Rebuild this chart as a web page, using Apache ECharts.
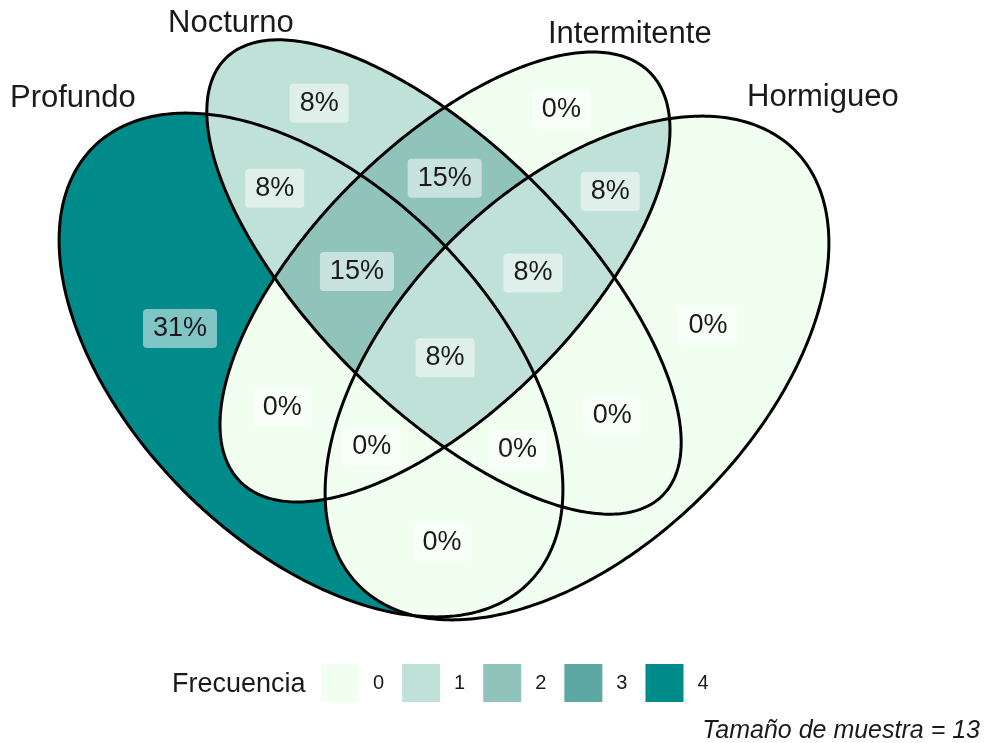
<!DOCTYPE html>
<html>
<head>
<meta charset="utf-8">
<script src="https://cdn.jsdelivr.net/npm/echarts@6/dist/echarts.min.js"></script>
<style>
  html, body { margin: 0; padding: 0; background: #fff; }
  #chart { width: 989px; height: 743px; }
</style>
</head>
<body>
<div id="chart"></div>
<script>
// conjuntos y regiones (A = Profundo, B = Nocturno, C = Intermitente, D = Hormigueo)
var setNames = ['Profundo', 'Nocturno', 'Intermitente', 'Hormigueo'];
var regionKeys = ['A', 'B', 'C', 'D', 'AB', 'AC', 'AD', 'BC', 'BD', 'CD', 'ABC', 'ABD', 'ACD', 'BCD', 'ABCD'];
var regionCounts = [4, 1, 0, 0, 1, 0, 0, 2, 0, 1, 2, 0, 0, 1, 1];
var sampleSize = 13;
var legendLevels = [0, 1, 2, 3, 4];
var levelColors = ['#F0FFF0', '#BFE1D7', '#90C4BB', '#5DA8A3', '#008B8B'];

var FONT = '"Liberation Sans", Arial, sans-serif';

// forma de cada conjunto (elipses, en pixeles del lienzo)
var shapes = [
  { cx: 311, cy: 365, a: 308, b: 179, rot: 45 },
  { cx: 444, cy: 277, a: 309, b: 130.5, rot: 45 },
  { cx: 445, cy: 277, a: 289.5, b: 132, rot: -45 },
  { cx: 577, cy: 368, a: 308, b: 179, rot: -45 }
];

// tramo horizontal de una elipse a la altura y
function rowSpan(s, y) {
  var t = s.rot * Math.PI / 180, c = Math.cos(t), sn = Math.sin(t);
  var dy = y - s.cy;
  var a2 = s.a * s.a, b2 = s.b * s.b;
  var A = c * c / a2 + sn * sn / b2;
  var B = 2 * dy * (c * sn / a2 - sn * c / b2);
  var C = dy * dy * (sn * sn / a2 + c * c / b2) - 1;
  var d = B * B - 4 * A * C;
  if (d <= 0) return null;
  var r = Math.sqrt(d);
  return [s.cx + (-B - r) / (2 * A), s.cx + (-B + r) / (2 * A)];
}

function regionRuns(key, y) {
  var spans = shapes.map(function (s) { return rowSpan(s, y); });
  var cuts = [];
  spans.forEach(function (sp) { if (sp) cuts.push(sp[0], sp[1]); });
  cuts.sort(function (p, q) { return p - q; });
  var runs = [];
  for (var i = 0; i < cuts.length - 1; i++) {
    if (cuts[i + 1] - cuts[i] < 1e-6) continue;
    var mid = (cuts[i] + cuts[i + 1]) / 2;
    var ok = true;
    for (var k = 0; k < 4; k++) {
      var inside = !!(spans[k] && mid > spans[k][0] && mid < spans[k][1]);
      var want = key.indexOf('ABCD'[k]) >= 0;
      if (inside !== want) { ok = false; break; }
    }
    if (ok) {
      var last = runs[runs.length - 1];
      if (last && Math.abs(last[1] - cuts[i]) < 1e-6) last[1] = cuts[i + 1];
      else runs.push([cuts[i], cuts[i + 1]]);
    }
  }
  return runs;
}

// geometria de cada region por lineas de barrido
var regionGeo = regionKeys.map(function (key) {
  var rows = [], sx = 0, sy = 0, area = 0;
  for (var y = 0.5; y < 743; y += 1) {
    var runs = regionRuns(key, y);
    if (!runs.length) continue;
    rows.push({ y: y, runs: runs });
    runs.forEach(function (r) {
      var w = r[1] - r[0];
      area += w; sx += w * (r[0] + r[1]) / 2; sy += w * y;
    });
  }
  return { rows: rows, cx: sx / area, cy: sy / area };
});

function renderRegion(params, api) {
  var geo = regionGeo[api.value(0)];
  var color = api.visual('color');
  var children = [];
  geo.rows.forEach(function (row) {
    row.runs.forEach(function (r) {
      var p0 = api.coord([r[0], row.y - 0.5]);
      var p1 = api.coord([r[1], row.y + 0.5]);
      children.push({
        type: 'rect',
        shape: { x: p0[0], y: Math.min(p0[1], p1[1]), width: p1[0] - p0[0], height: Math.abs(p1[1] - p0[1]) + 0.6 },
        style: { fill: color }
      });
    });
  });
  return { type: 'group', children: children };
}

function renderOutline(params, api) {
  var s = shapes[api.value(0)];
  var t = s.rot * Math.PI / 180, pts = [];
  for (var i = 0; i < 360; i++) {
    var u = i / 360 * Math.PI * 2;
    var ex = s.a * Math.cos(u), ey = s.b * Math.sin(u);
    pts.push(api.coord([s.cx + ex * Math.cos(t) - ey * Math.sin(t), s.cy + ex * Math.sin(t) + ey * Math.cos(t)]));
  }
  return {
    type: 'polygon',
    shape: { points: pts },
    style: { fill: null, stroke: '#000', lineWidth: 3 }
  };
}

function renderLabel(params, api) {
  var idx = api.value(0);
  var geo = regionGeo[idx];
  var p = api.coord([geo.cx, geo.cy]);
  var pct = Math.round(regionCounts[idx] / sampleSize * 100) + '%';
  return {
    type: 'text',
    x: p[0], y: p[1] + 4,
    style: {
      text: pct,
      fill: '#1a1a1a',
      fontSize: 27,
      fontFamily: FONT,
      align: 'center',
      verticalAlign: 'middle',
      backgroundColor: 'rgba(255,255,255,0.5)',
      padding: [6, 10, 6, 10],
      borderRadius: 4
    }
  };
}

var chart = echarts.init(document.getElementById('chart'));
chart.setOption({
  backgroundColor: '#fff',
  animation: false,
  grid: { left: 0, right: 0, top: 0, bottom: 0 },
  xAxis: { type: 'value', min: 0, max: 989, show: false },
  yAxis: { type: 'value', min: 0, max: 743, inverse: true, show: false },
  visualMap: {
    type: 'piecewise',
    seriesIndex: 0,
    dimension: 1,
    orient: 'horizontal',
    align: 'left',
    left: 321,
    top: 664,
    padding: 0,
    itemWidth: 38,
    itemHeight: 38,
    itemGap: 18,
    textGap: 14,
    itemSymbol: 'rect',
    selectedMode: false,
    hoverLink: false,
    pieces: legendLevels.map(function (v, i) {
      return { value: v, label: String(v), color: levelColors[i] };
    }),
    textStyle: { fontSize: 20, color: '#1a1a1a', fontFamily: FONT }
  },
  graphic: [
    { type: 'text', left: 10, top: 83, style: { text: setNames[0], fontSize: 31, fontFamily: FONT, fill: '#1a1a1a' } },
    { type: 'text', left: 168, top: 8, style: { text: setNames[1], fontSize: 31, fontFamily: FONT, fill: '#1a1a1a' } },
    { type: 'text', left: 548, top: 19, style: { text: setNames[2], fontSize: 31, fontFamily: FONT, fill: '#1a1a1a' } },
    { type: 'text', left: 747, top: 82, style: { text: setNames[3], fontSize: 31, fontFamily: FONT, fill: '#1a1a1a' } },
    { type: 'text', left: 172, top: 671, style: { text: 'Frecuencia', fontSize: 27, fontFamily: FONT, fill: '#1a1a1a' } },
    { type: 'text', right: 9, top: 719, style: { text: 'Tamaño de muestra = ' + sampleSize, fontSize: 25, fontStyle: 'italic', fontFamily: FONT, fill: '#1a1a1a' } }
  ],
  series: [
    {
      type: 'custom',
      coordinateSystem: 'cartesian2d',
      renderItem: renderRegion,
      silent: true,
      z: 1,
      data: regionCounts.map(function (c, i) { return [i, c]; })
    },
    {
      type: 'custom',
      coordinateSystem: 'cartesian2d',
      renderItem: renderOutline,
      silent: true,
      z: 2,
      data: shapes.map(function (s, i) { return [i, 0]; })
    },
    {
      type: 'custom',
      coordinateSystem: 'cartesian2d',
      renderItem: renderLabel,
      silent: true,
      z: 3,
      data: regionCounts.map(function (c, i) { return [i, c]; })
    }
  ]
});
</script>
</body>
</html>
